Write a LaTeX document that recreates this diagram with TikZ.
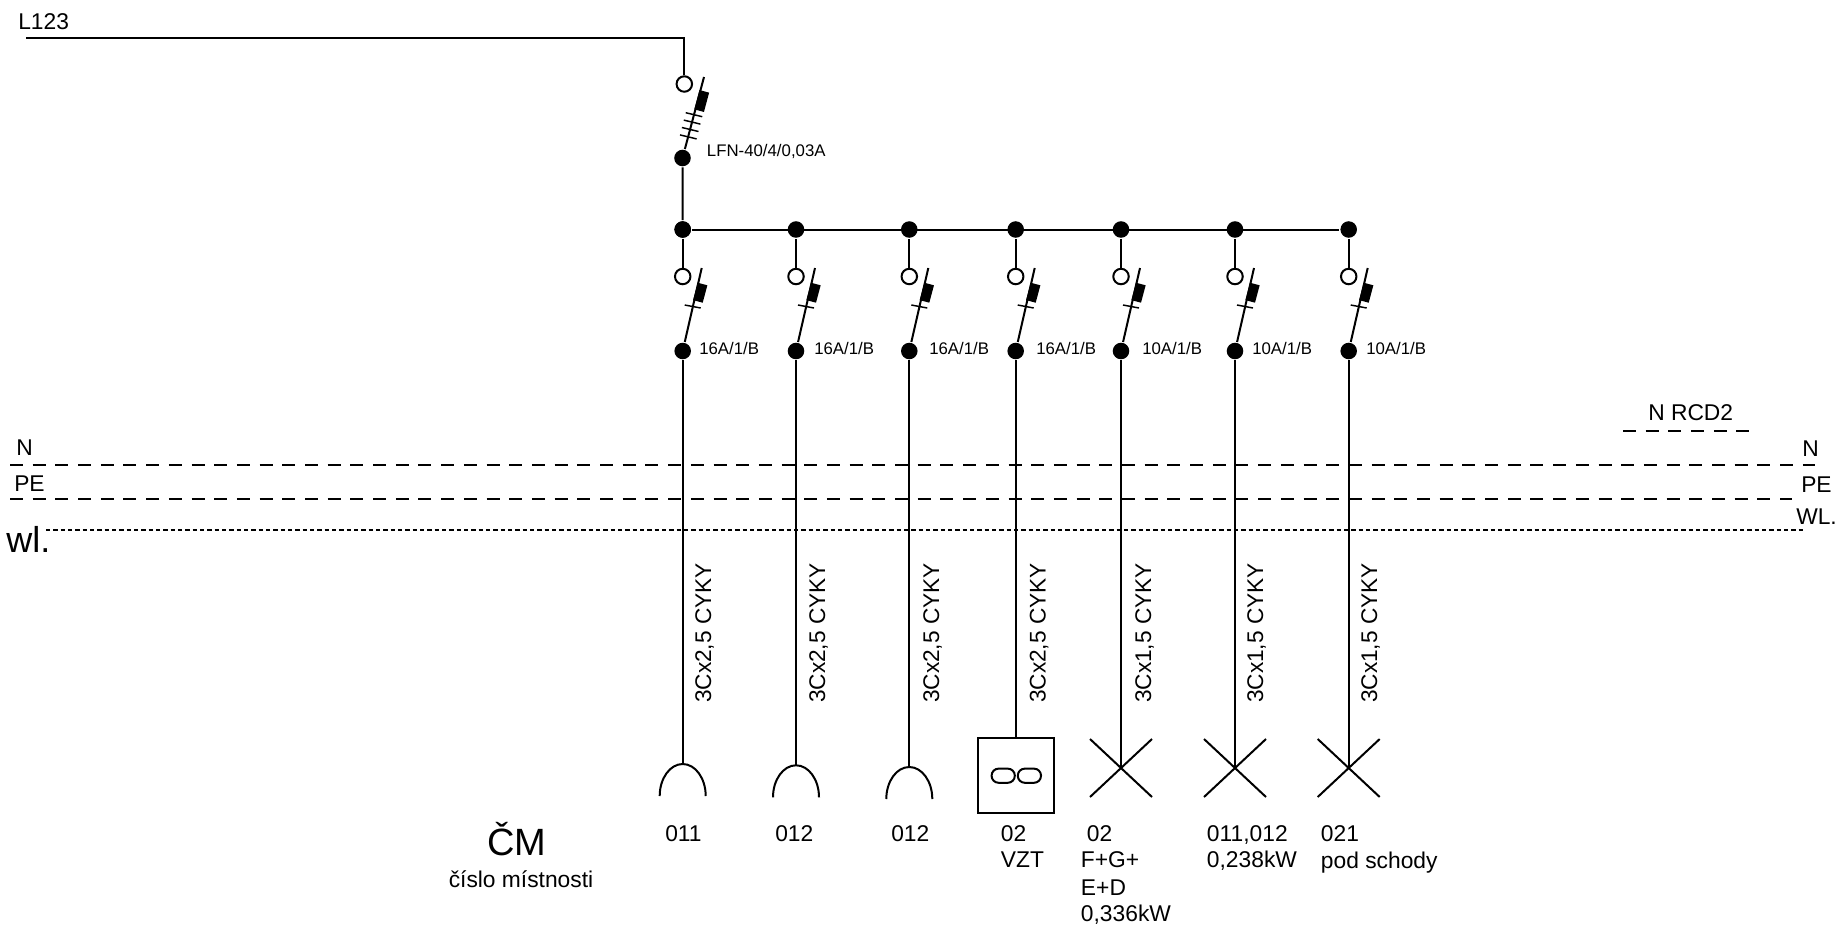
\documentclass[tikz,border=0pt]{standalone}
\usepackage{fontspec}
\setmainfont{Liberation Sans}
\usetikzlibrary{calc}

\begin{document}
\begin{tikzpicture}[x=.75pt,y=-.75pt,line width=1.5pt,
		every node/.style={inner sep=0},
		fulldot/.style={circle,fill=black,minimum size=12.4pt},
		opendot/.style={circle,draw,fill=white,minimum size=11.6pt},
		trip/.style={fill=black,minimum width=7.5pt,minimum height=13.5pt,rotate=-15},
		pill/.style={draw,rounded corners=5.2pt,minimum width=17.4pt,minimum height=10.6pt},
		txt/.style={anchor=base west,xshift=-1.3pt,font=\fontsize{17.1}{20}\selectfont},
		small/.style={anchor=base west,xshift=-1.3pt,font=\fontsize{12.6}{15}\selectfont},
		cable/.style={anchor=base,rotate=90,font=\fontsize{17}{20}\selectfont},
		longdash/.style={dash pattern=on 9.75pt off 7.27pt},
		shortdash/.style={line width=1.3pt,dash pattern=on 3.3pt off 2.2pt}]
	\useasboundingbox (0,0) rectangle (1843,933);

	%supply and main breaker placed by hand
	\node[txt] (l123) at (19,29){L123};
	\coordinate (feed) at (26,38);
	\coordinate (corner) at (684.3,38);
	\node[opendot] (mainopen) at (684.3,84){};
	\node[fulldot] (maindot) at (682.5,158){};
	\node[trip,minimum height=15pt] (maintrip) at (701.7,101){};
	\coordinate (maintip) at (704,77);
	\node[fulldot] (bus1) at (682.7,229.5){};
	\draw (feed)--(corner)--(mainopen);
	\draw (maindot)--(maintip);
	\draw (maindot)--(bus1);
	\foreach \k in {0,1,2,3}{
		\coordinate (ticka\k) at (685.7-1.9*\k,112.7+7.4*\k);
		\coordinate (tickb\k) at (702.3-1.9*\k,116.7+7.4*\k);
		\draw[line width=1.1pt] (ticka\k)--(tickb\k);
		}
	\node[small] (mainlabel) at (707.7,156){LFN-40/4/0,03A};

	%% outgoing circuits drawn with a loop
	\foreach \i/\x/\r/\lx/\cx/\c in {1/682.7/16/700/711/2,2/796/16/815/825/2,3/909.3/16/930/939/2,4/1015.7/16/1037/1045.5/2,5/1121/10/1143/1151/1,6/1235/10/1253/1263/1,7/1348.7/10/1367/1377/1}{
		\node[fulldot] (bus\i) at (\x,229.5){};
		\node[opendot] (open\i) at (\x,276.5){};
		\node[fulldot] (dot\i) at (\x,351){};
		\node[trip] (trip\i) at (\x+17.5,292.7){};
		\coordinate (tip\i) at (\x+19,268);
		\coordinate (ticka\i) at (\x+2,305);
		\coordinate (tickb\i) at (\x+18,308);
		\draw (bus\i)--(open\i);
		\draw (dot\i)--(tip\i);
		\draw[line width=1.1pt] (ticka\i)--(tickb\i);
		\node[small] (rate\i) at (\lx,354){\r A/1/B};
		\node[cable] (cable\i) at (\cx,633){3Cx\c,5 CYKY};
		}
	\draw (bus1)--(bus7);

	%% sockets
	\foreach \i/\x/\t in {1/682.7/764,2/796/765.3,3/909.3/767}{
		\coordinate (sock\i) at (\x,\t);
		\coordinate (sockl\i) at (\x-23,\t+32);
		\draw (dot\i)--(sock\i);
		\draw (sockl\i) arc[start angle=180,end angle=0,x radius=17.25pt,y radius=24pt];
		}

	%ventilation box
	\node[draw,minimum width=57pt,minimum height=56.3pt] (vzt) at (1015.7,775.5){};
	\node[pill] (pilla) at (1003.2,775.7){};
	\node[pill] (pillb) at (1029.4,775.7){};
	\draw (dot4)--(vzt);

	%% lights
	\foreach \i/\x in {5/1121,6/1235,7/1348.7}{
		\coordinate (lamp\i) at (\x,768);
		\coordinate (lampa\i) at (\x-31,739);
		\coordinate (lampb\i) at (\x+31,797);
		\coordinate (lampc\i) at (\x-31,797);
		\coordinate (lampd\i) at (\x+31,739);
		\draw (dot\i)--(lamp\i);
		\draw (lampa\i)--(lampb\i);
		\draw (lampc\i)--(lampd\i);
		}

	%bars N, PE, wl.
	\coordinate (nl) at (10,465);
	\coordinate (nr) at (1815,465);
	\coordinate (pel) at (10,499.3);
	\coordinate (per) at (1792,499.3);
	\coordinate (wll) at (46,530);
	\coordinate (wlr) at (1803,530);
	\coordinate (rcdl) at (1623,430.7);
	\coordinate (rcdr) at (1749,430.7);
	\draw[longdash] (nl)--(nr);
	\draw[longdash] (pel)--(per);
	\draw[shortdash] (wll)--(wlr);
	\draw[longdash] (rcdl)--(rcdr);
	\node[txt] (nleft) at (17,455){N};
	\node[txt] (peleft) at (15,491){PE};
	\node[txt,font=\fontsize{27}{30}\selectfont] (wlleft) at (7,552){wl.};
	\node[txt] (nright) at (1803,456){N};
	\node[txt] (peright) at (1802,492.7){PE};
	\node[txt] (wlright) at (1797,524){WL.};
	\node[txt] (rcd) at (1649,420){N RCD2};

	%texts under the symbols
	\node[txt] (room1) at (666,841.7){011};
	\node[txt] (room2) at (776,841){012};
	\node[txt] (room3) at (892,841){012};
	\node[txt] (room4) at (1001.7,841){02};
	\node[txt] (vztlabel) at (1001.7,867.7){VZT};
	\node[txt] (room5) at (1087.7,841.7){02};
	\node[txt] (fg) at (1081.7,867.7){F+G+};
	\node[txt] (ed) at (1081.7,895){E+D};
	\node[txt] (power5) at (1081.7,921.7){0,336kW};
	\node[txt] (room6) at (1207.7,841){011,012};
	\node[txt] (power6) at (1207.7,867.7){0,238kW};
	\node[txt] (room7) at (1321.7,841.7){021};
	\node[txt] (place7) at (1321.7,868.3){pod schody};
	\node[anchor=base,font=\fontsize{28.5}{32}\selectfont] (cm) at (517,855){ČM};
	\node[txt,anchor=base,xshift=1.3pt] (cmtext) at (521,887){číslo místnosti};
\end{tikzpicture}
\end{document}
